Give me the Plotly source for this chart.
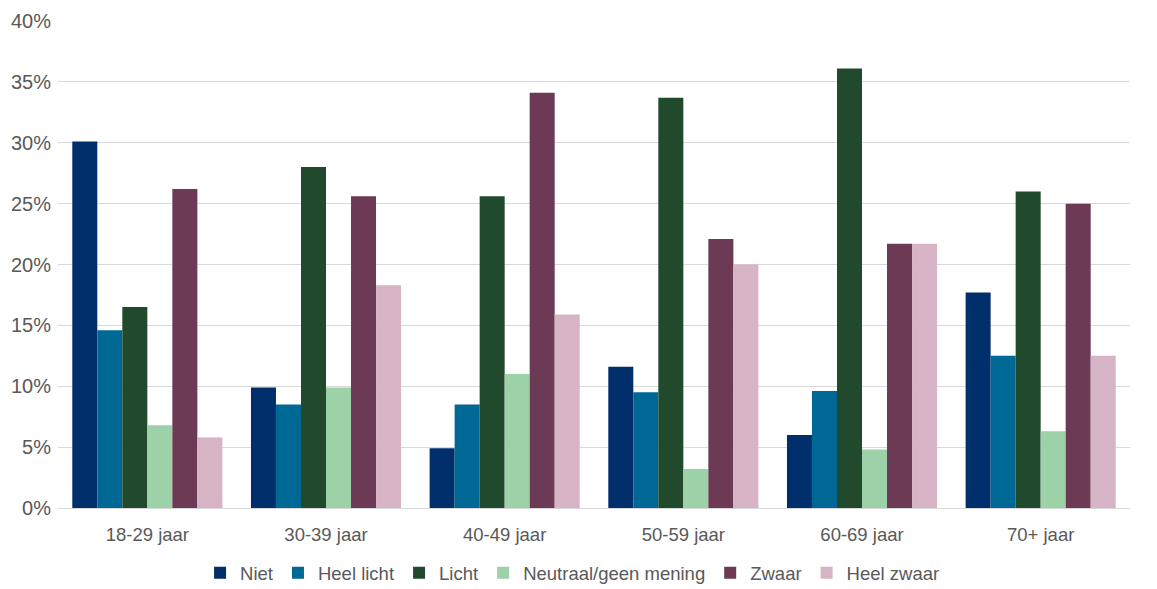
import plotly.graph_objects as go

categories = ["18-29 jaar", "30-39 jaar", "40-49 jaar", "50-59 jaar", "60-69 jaar", "70+ jaar"]
series_names = ["Niet", "Heel licht", "Licht", "Neutraal/geen mening", "Zwaar", "Heel zwaar"]
niet = [30.1, 9.9, 4.9, 11.6, 6.0, 17.7]
heel_licht = [14.6, 8.5, 8.5, 9.5, 9.6, 12.5]
licht = [16.5, 28.0, 25.6, 33.7, 36.1, 26.0]
neutraal = [6.8, 9.9, 11.0, 3.2, 4.8, 6.3]
zwaar = [26.2, 25.6, 34.1, 22.1, 21.7, 25.0]
heel_zwaar = [5.8, 18.3, 15.9, 20.0, 21.7, 12.5]
colors = ["#002F6C", "#006894", "#214A2D", "#9DD1A7", "#6C3A55", "#D6B4C6"]

values = [niet, heel_licht, licht, neutraal, zwaar, heel_zwaar]

fig = go.Figure()
for name, vals, col in zip(series_names, values, colors):
    fig.add_trace(go.Bar(
        x=categories, y=[v / 100 for v in vals], name=name,
        marker=dict(color=col, line=dict(width=0)),
    ))

font_family = "Liberation Sans, Arial"
fig.update_layout(
    width=1157, height=589,
    barmode="group", bargap=0.16, bargroupgap=0,
    plot_bgcolor="white", paper_bgcolor="white",
    margin=dict(l=50, r=35, t=13, b=89, autoexpand=False),
    font=dict(family=font_family, size=18, color="#595959"),
    yaxis=dict(
        range=[0, 0.40], dtick=0.05, tickformat=".0%",
        showgrid=True, gridcolor="#D9D9D9", gridwidth=1,
        zeroline=False, showline=False, ticks="",
        ticklabelstandoff=6, tickfont=dict(size=20), automargin=False,
    ),
    xaxis=dict(
        showline=True, linecolor="#D9D9D9", linewidth=1,
        ticks="", tickfont=dict(size=18.5), ticklabelstandoff=10, automargin=False,
    ),
    legend=dict(
        orientation="h", x=0.48, xanchor="center", y=-0.134, yanchor="middle",
        font=dict(size=18.5), itemwidth=30, traceorder="normal",
    ),
)
fig.write_html("out.html")
